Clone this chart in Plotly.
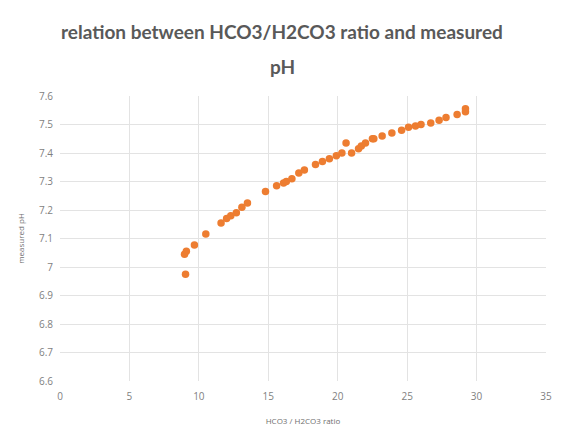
import plotly.graph_objects as go

ratio = [9.04, 8.97, 9.1, 9.68, 10.5, 11.6, 12.0, 12.3, 12.7, 13.1, 13.5,
         14.8, 15.6, 16.1, 16.3, 16.7, 17.2, 17.6, 18.4, 18.9, 19.4, 19.9,
         20.3, 20.6, 21.0, 21.5, 21.7, 22.0, 22.5, 22.6, 23.2, 23.9, 24.6,
         25.1, 25.6, 26.0, 26.7, 27.3, 27.8, 28.6, 29.2, 29.2]
ph = [6.975, 7.045, 7.055, 7.077, 7.116, 7.154, 7.17, 7.18, 7.19, 7.21, 7.225,
      7.265, 7.285, 7.295, 7.30, 7.31, 7.33, 7.34, 7.36, 7.37, 7.38, 7.39,
      7.40, 7.435, 7.40, 7.415, 7.425, 7.435, 7.45, 7.45, 7.46, 7.47, 7.48,
      7.49, 7.495, 7.50, 7.505, 7.515, 7.525, 7.535, 7.545, 7.555]

x_ticks = [0, 5, 10, 15, 20, 25, 30, 35]
y_ticks = [6.6, 6.7, 6.8, 6.9, 7.0, 7.1, 7.2, 7.3, 7.4, 7.5, 7.6]
y_tick_labels = ["6.6", "6.7", "6.8", "6.9", "7", "7.1", "7.2", "7.3", "7.4", "7.5", "7.6"]

title_lines = ["relation between HCO3/H2CO3 ratio and measured", "pH"]

fig = go.Figure(go.Scatter(
    x=ratio, y=ph, mode="markers",
    marker=dict(color="#ED7D31", size=7.5),
))

title_font = dict(family="Lato", size=19, color="#595959", weight="bold")
fig.add_annotation(text=title_lines[0], xref="paper", yref="paper",
                   x=0.457, y=1, yshift=65, xanchor="center", yanchor="middle",
                   showarrow=False, font=title_font)
fig.add_annotation(text=title_lines[1], xref="paper", yref="paper",
                   x=0.457, y=1, yshift=30, xanchor="center", yanchor="middle",
                   showarrow=False, font=title_font)

fig.update_layout(
    width=564, height=445,
    paper_bgcolor="white", plot_bgcolor="white",
    margin=dict(l=60, r=16, t=96, b=64),
    showlegend=False,
    font=dict(family="Open Sans", color="#7f7f7f", size=9),
)
fig.update_xaxes(
    range=[0, 35], tickvals=x_ticks, showgrid=True, gridcolor="#e3e3e3",
    zeroline=False, showline=False, ticks="outside", ticklen=6, tickcolor="white",
    title=dict(text="HCO3 / H2CO3 ratio", font=dict(size=8, color="#6f6f6f"), standoff=16),
    tickfont=dict(size=10, color="#7f7f7f"),
)
fig.update_yaxes(
    range=[6.6, 7.6], tickvals=y_ticks, ticktext=y_tick_labels,
    showgrid=True, gridcolor="#e3e3e3",
    zeroline=False, showline=False, ticks="outside", ticklen=4, tickcolor="white",
    title=dict(text="measured pH", font=dict(size=8, color="#6f6f6f"), standoff=13),
    tickfont=dict(size=10, color="#7f7f7f"),
)

fig.write_html("out.html")
